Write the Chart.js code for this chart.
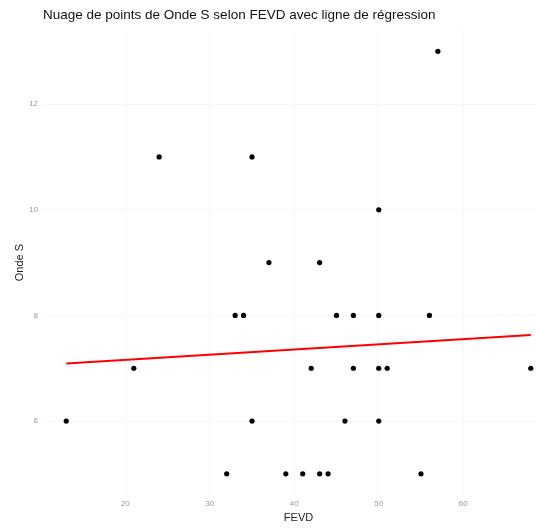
<!DOCTYPE html>
<html>
<head>
<meta charset="utf-8">
<script src="https://cdn.jsdelivr.net/npm/chart.js@4"></script>
<style>
  html, body { margin: 0; padding: 0; background: #fff; overflow: hidden; }
  #wrap { width: 536px; height: 531px; overflow: hidden; }
</style>
</head>
<body>
<div id="wrap"><canvas id="chart" width="560" height="531"></canvas></div>
<script>
// Valeurs
const fevd =   [57, 24, 35, 50, 37, 43, 33, 34, 45, 47, 50, 56, 21, 42, 47, 50, 51, 68, 13, 35, 46, 50, 32, 39, 41, 43, 44, 55];
const ondeS =  [13, 11, 11, 10,  9,  9,  8,  8,  8,  8,  8,  8,  7,  7,  7,  7,  7,  7,  6,  6,  6,  6,  5,  5,  5,  5,  5,  5];

// Ligne de régression (extrémités)
const regX = [13, 68];
const regY = [7.09, 7.63];

const xTicks = [20, 30, 40, 50, 60];
const yTicks = [6, 8, 10, 12];

const points = fevd.map((x, i) => ({ x: x, y: ondeS[i] }));
const regLine = regX.map((x, i) => ({ x: x, y: regY[i] }));

const font = "'Liberation Sans', Arial, sans-serif";

new Chart(document.getElementById('chart'), {
    type: 'scatter',
    data: {
        datasets: [
            {
                type: 'line',
                data: regLine,
                borderColor: '#ff0000',
                borderWidth: 2,
                pointRadius: 0,
                fill: false,
                clip: false
            },
            {
                data: points,
                backgroundColor: '#000',
                borderColor: '#000',
                pointRadius: 2.6,
                borderWidth: 0,
                clip: false
            }
        ]
    },
    options: {
        responsive: false,
        animation: false,
        layout: { padding: { left: 13, right: 6, top: 0, bottom: 0 } },
        plugins: {
            legend: { display: false },
            tooltip: { enabled: false },
            title: {
                display: true,
                text: 'Nuage de points de Onde S selon FEVD avec ligne de régression',
                align: 'start',
                fullSize: false,
                color: '#111',
                font: { family: font, size: 13.5, weight: 'normal' },
                padding: { top: 7, bottom: 7 }
            }
        },
        scales: {
            x: {
                type: 'linear',
                min: 10.25,
                max: 70.75,
                afterBuildTicks: s => { s.ticks = xTicks.map(v => ({ value: v })); },
                afterFit: s => { s.height = 36; },
                border: { display: false },
                grid: { color: '#f7f7f7', drawTicks: false },
                ticks: { color: '#999', font: { family: font, size: 8 }, padding: 4 },
                title: {
                    display: true,
                    text: 'FEVD',
                    color: '#222',
                    font: { family: font, size: 11 },
                    padding: { top: 0, bottom: 6 }
                }
            },
            y: {
                type: 'linear',
                min: 4.6,
                max: 13.4,
                afterBuildTicks: s => { s.ticks = yTicks.map(v => ({ value: v })); },
                afterFit: s => { s.width = 30; },
                border: { display: false },
                grid: { color: '#f7f7f7', drawTicks: false },
                ticks: { color: '#999', font: { family: font, size: 8 }, padding: 5 },
                title: {
                    display: true,
                    text: 'Onde S',
                    color: '#222',
                    font: { family: font, size: 11 },
                    padding: 0
                }
            }
        }
    }
});
</script>
</body>
</html>
